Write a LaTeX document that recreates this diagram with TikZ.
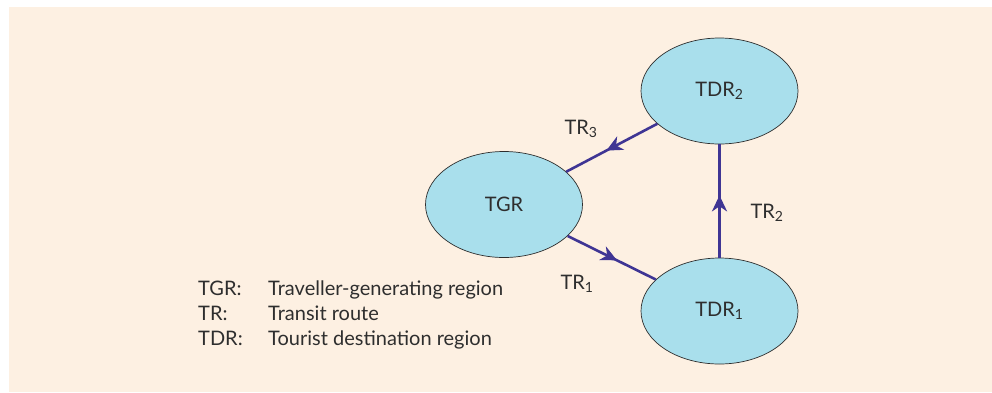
\documentclass[tikz,border=0pt]{standalone}
\usepackage{fontspec}
\setmainfont{Lato}
\usetikzlibrary{arrows.meta,decorations.markings,shapes.geometric}
\definecolor{panel}{HTML}{FDF0E2}
\definecolor{regionfill}{HTML}{A9DFEC}
\definecolor{routecol}{HTML}{3F3594}
\definecolor{ink}{HTML}{2E2E2E}
\newcommand{\subnum}[1]{\textsubscript{#1}}
\begin{document}
\begin{tikzpicture}[x=1pt,y=-1pt,
  regionbox/.style={ellipse, draw=ink, line width=0.7pt, fill=regionfill,
    minimum width=157pt, minimum height=106pt, inner sep=0pt,
    text=ink, font=\fontsize{20}{24}\selectfont},
  tag/.style={text=ink, font=\fontsize{20}{24}\selectfont, inner sep=0pt},
  routeline/.style={draw=routecol, line width=2.6pt,
    postaction={decorate, decoration={markings,
      mark=at position #1 with {\arrow{Stealth[length=16pt,width=15pt,inset=5pt]}}}}},
  routeline/.default=0.55]
  \useasboundingbox (0,0) rectangle (992,392);
  \fill[white] (0,0) rectangle (992,392);
  \fill[panel] (9,7) rectangle (992,392);

  % regions
  \node[regionbox] (tgr)  at (504,204.5) {TGR};
  \node[regionbox] (tdr2) at (719.5,91)  {TDR\subnum{2}};
  \node[regionbox] (tdr1) at (719.5,311) {TDR\subnum{1}};

  % transit routes
  \draw[routeline=0.56] (tdr2) -- (tgr);
  \draw[routeline=0.56] (tgr) -- (tdr1);
  \draw[routeline=0.55] (tdr1) -- (tdr2);

  % route labels
  \node[tag] (tr3) at (581,129) {TR\subnum{3}};
  \node[tag] (tr2) at (767,213) {TR\subnum{2}};
  \node[tag] (tr1) at (577,284) {TR\subnum{1}};

  % key
  \node[tag, anchor=north west, align=left] (key) at (198,278) {%
    \setlength{\tabcolsep}{0pt}\renewcommand{\arraystretch}{1}%
    \begin{tabular}{@{}p{70pt}@{}l@{}}
      TGR: & Traveller-generating region\\[1pt]
      TR:  & Transit route\\[1pt]
      TDR: & Tourist destination region
    \end{tabular}};
\end{tikzpicture}
\end{document}
